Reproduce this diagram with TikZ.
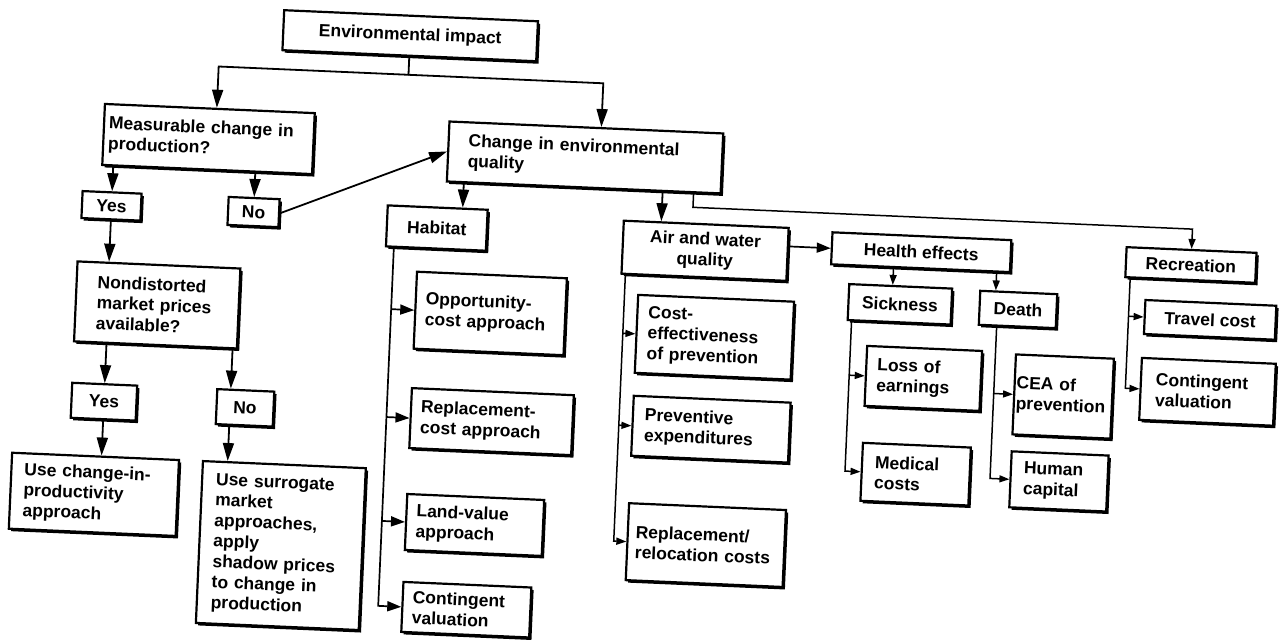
\documentclass[tikz,border=0pt]{standalone}
\usepackage{fontspec}
\setmainfont{Liberation Sans}
\usepackage{tikz}
\usetikzlibrary{arrows.meta, positioning, shadows, calc}

\begin{document}
\begin{tikzpicture}[
    x=1pt, y=1pt, font=\bfseries\fontsize{17.5}{20.5}\selectfont,
    blk/.style={rectangle, draw=black, fill=white, line width=2.2pt, inner sep=0pt, align=center,
      drop shadow={shadow xshift=2.4pt, shadow yshift=-2.4pt, fill=black, opacity=1}},
    lblk/.style={blk, align=left, text width=#1},
    ar/.style={-{Triangle[length=18pt, width=11pt]}, line width=1.8pt},
    mar/.style={-{Triangle[length=14pt, width=10pt]}, line width=1.7pt},
    sar/.style={-{Triangle[length=10pt, width=7pt]}, line width=1.5pt}]
  \fill[white] (0,0) rectangle (1279,-641);
  \useasboundingbox (0,0) rectangle (1279,-641);
  \begin{scope}[transform canvas={rotate around={-2.5:(640,-320)}}]
  \node[blk, minimum width=254pt, minimum height=40pt] (env) at (398,-46) {Environmental impact};
  \node[lblk=200pt, minimum width=210pt, minimum height=61pt] (meas) at (201,-158) {Measurable change in\\production?};
  \node[blk, minimum width=59pt, minimum height=27pt] (yes1) at (107,-229) {Yes};
  \node[blk, minimum width=51pt, minimum height=28pt, right=85pt of yes1] (no1) {No};
  \node[lblk=121pt, minimum width=163pt, minimum height=80pt] (nondist) at (157,-326) {Nondistorted\\market prices\\available?};
  \node[blk, minimum width=65pt, minimum height=35pt] (yes2) at (108,-425) {Yes};
  \node[blk, minimum width=57pt, minimum height=35pt, right=78pt of yes2] (no2) {No};
  \node[lblk=141pt, minimum width=167pt, minimum height=76pt] (usechange) at (102,-518) {Use change-in-\\productivity\\approach};
  \node[lblk=135pt, minimum width=163pt, minimum height=162pt] (usesurr) at (291,-561) {Use surrogate\\market\\approaches,\\apply\\shadow prices\\to change in\\production};
  \node[lblk=234pt, minimum width=274pt, minimum height=60pt] (change) at (578,-160) {Change in environmental\\quality};
  \node[blk, minimum width=100pt, minimum height=41pt] (habitat) at (433,-237) {Habitat};
  \node[lblk=130pt, minimum width=150pt, minimum height=77pt, anchor=west] (opp) at (414,-320) {Opportunity-\\cost approach};
  \node[lblk=142pt, minimum width=162pt, minimum height=60pt, anchor=west] (repl) at (414,-428) {Replacement-\\cost approach};
  \node[lblk=117pt, minimum width=137pt, minimum height=56pt, anchor=west] (land) at (414,-532) {Land-value\\approach};
  \node[lblk=108pt, minimum width=128pt, minimum height=50pt, anchor=west] (conth) at (414,-617) {Contingent\\valuation};
  \node[blk, minimum width=165pt, minimum height=53pt] (air) at (702,-248) {Air and water\\quality};
  \node[blk, minimum width=179pt, minimum height=32pt] (health) at (918,-240) {Health effects};
  \node[blk, minimum width=130pt, minimum height=30pt] (recr) at (1188,-241) {Recreation};
  \node[lblk=134pt, minimum width=156pt, minimum height=78pt, anchor=west] (costeff) at (636,-334) {Cost-\\effectiveness\\of prevention};
  \node[lblk=133pt, minimum width=157pt, minimum height=60pt, anchor=west] (prevexp) at (636,-426) {Preventive\\expenditures};
  \node[lblk=141pt, minimum width=157pt, minimum height=77pt, anchor=west] (reloc) at (636,-542) {Replacement/\\relocation costs};
  \node[blk, minimum width=103pt, minimum height=36pt] (sick) at (899,-293) {Sickness};
  \node[blk, minimum width=77pt, minimum height=34pt, right=26pt of sick] (death) {Death};
  \node[lblk=93pt, minimum width=115pt, minimum height=60pt, anchor=west] (loss) at (867,-366) {Loss of\\earnings};
  \node[lblk=82pt, minimum width=108pt, minimum height=58pt, anchor=west] (med) at (867,-462) {Medical\\costs};
  \node[lblk=94pt, minimum width=98pt, minimum height=80pt, anchor=west] (cea) at (1016,-378) {CEA of\\prevention};
  \node[lblk=71pt, minimum width=97pt, minimum height=56pt, anchor=west] (human) at (1016,-463) {Human\\capital};
  \node[blk, minimum width=131pt, minimum height=34pt, anchor=west] (travel) at (1143,-295) {Travel cost};
  \node[lblk=104pt, minimum width=134pt, minimum height=62pt, anchor=west] (contr) at (1142,-367) {Contingent\\valuation};

  \coordinate (fork) at ($(env.south)+(0,-18)$);
  \draw[ar] (env.south) -- (fork) -| ([xshift=7pt]meas.north);
  \draw[ar] (fork) -| ([xshift=15pt]change.north);
  \draw[ar] (meas.south -| yes1.north) -- (yes1.north);
  \draw[ar] (meas.south -| no1.north) -- (no1.north);
  \draw[ar] (no1.east) -- (change.west);
  \draw[ar] (yes1.south) -- (yes1.south |- nondist.north);
  \draw[ar] (nondist.south -| yes2.north) -- (yes2.north);
  \coordinate (noin) at ([xshift=-15pt]no2.north);
  \coordinate (noout) at ([xshift=-15pt]no2.south);
  \draw[ar] (noin |- nondist.south) -- (noin);
  \draw[ar] (yes2.south) -- (yes2.south |- usechange.north);
  \draw[ar] (noout) -- (noout |- usesurr.north);

  \coordinate (habin) at ([xshift=25pt]habitat.north);
  \draw[ar] (habin |- change.south) -- (habin);
  \coordinate (airin) at ([xshift=-45pt]air.north);
  \draw[ar] (airin |- change.south) -- (airin);
  \coordinate (recout) at ([xshift=110pt]change.south);
  \draw[sar] (recout) -- ++(0,-14) -| (recr.north);
  \draw[mar] (air.east |- health.west) -- (health.west);
  \coordinate (sickin) at ([xshift=-8pt]sick.north);
  \draw[sar] (sickin |- health.south) -- (sickin);
  \coordinate (deathin) at ([xshift=-23pt]death.north);
  \draw[sar] (deathin |- health.south) -- (deathin);

  \coordinate (habtrunk) at ([xshift=9pt]habitat.south west);
  \draw[mar] (habtrunk) |- (conth.west);
  \foreach \n in {opp,repl,land}
    \draw[mar] (habtrunk |- \n.west) -- (\n.west);
  \coordinate (airtrunk) at ([xshift=5pt]air.south west);
  \draw[sar] (airtrunk) |- (reloc.west);
  \foreach \n in {costeff,prevexp}
    \draw[sar] (airtrunk |- \n.west) -- (\n.west);
  \coordinate (sicktrunk) at ([xshift=5pt]sick.south west);
  \draw[sar] (sicktrunk) |- (med.west);
  \draw[sar] (sicktrunk |- loss.west) -- (loss.west);
  \coordinate (deathtrunk) at ([xshift=19pt]death.south west);
  \draw[sar] (deathtrunk) |- (human.west);
  \draw[sar] (deathtrunk |- cea.west) -- (cea.west);
  \coordinate (rectrunk) at ([xshift=6pt]recr.south west);
  \draw[sar] (rectrunk) |- (contr.west);
  \draw[sar] (rectrunk |- travel.west) -- (travel.west);
  \end{scope}
\end{tikzpicture}
\end{document}
